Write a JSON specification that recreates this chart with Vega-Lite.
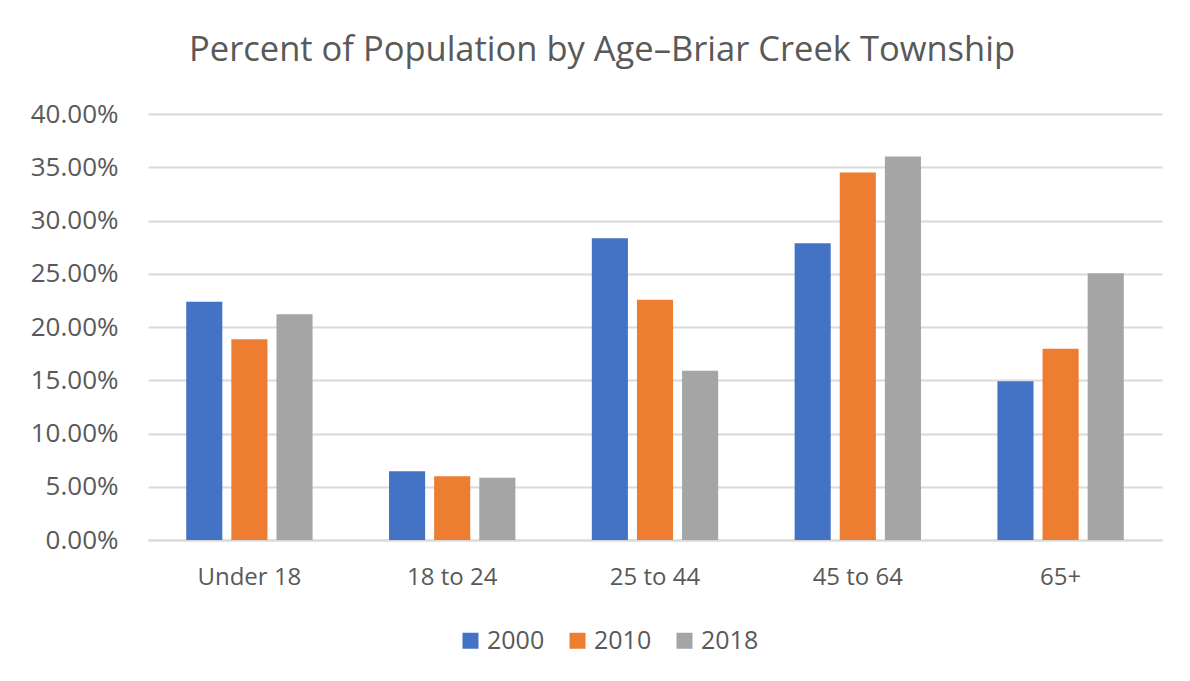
{
  "$schema": "https://vega.github.io/schema/vega-lite/v6.json",
  "width": 1014,
  "height": 426,
  "autosize": {"type": "none"},
  "padding": {"left": 148, "top": 114, "right": 28, "bottom": 141},
  "background": "white",
  "title": {
    "text": "Percent of Population by Age\u2013Briar Creek Township",
    "font": "Open Sans",
    "fontSize": 34.5,
    "fontWeight": "normal",
    "color": "#595959",
    "anchor": "middle",
    "dx": -53,
    "offset": 33
  },
  "data": {
    "values": [
      {"age": "Under 18", "year": "2000", "pct": 0.2238},
      {"age": "Under 18", "year": "2010", "pct": 0.1886},
      {"age": "Under 18", "year": "2018", "pct": 0.2120},
      {"age": "18 to 24", "year": "2000", "pct": 0.0645},
      {"age": "18 to 24", "year": "2010", "pct": 0.0598},
      {"age": "18 to 24", "year": "2018", "pct": 0.0585},
      {"age": "25 to 44", "year": "2000", "pct": 0.2833},
      {"age": "25 to 44", "year": "2010", "pct": 0.2256},
      {"age": "25 to 44", "year": "2018", "pct": 0.1590},
      {"age": "45 to 64", "year": "2000", "pct": 0.2786},
      {"age": "45 to 64", "year": "2010", "pct": 0.3450},
      {"age": "45 to 64", "year": "2018", "pct": 0.3600},
      {"age": "65+", "year": "2000", "pct": 0.1490},
      {"age": "65+", "year": "2010", "pct": 0.1796},
      {"age": "65+", "year": "2018", "pct": 0.2504}
    ]
  },
  "mark": {"type": "bar"},
  "encoding": {
    "x": {
      "field": "age",
      "type": "nominal",
      "sort": ["Under 18", "18 to 24", "25 to 44", "45 to 64", "65+"],
      "scale": {"paddingInner": 0.377, "paddingOuter": 0.1885},
      "axis": {
        "title": null,
        "labelAngle": 0,
        "labelFont": "Open Sans",
        "labelFontSize": 24,
        "labelColor": "#595959",
        "labelPadding": 25,
        "ticks": false,
        "domain": true,
        "domainColor": "#D9D9D9",
        "domainWidth": 2
      }
    },
    "xOffset": {
      "field": "year",
      "type": "nominal",
      "scale": {"paddingInner": 0.2, "paddingOuter": 0}
    },
    "y": {
      "field": "pct",
      "type": "quantitative",
      "scale": {"domain": [0, 0.4], "nice": false},
      "axis": {
        "title": null,
        "format": ".2%",
        "values": [0, 0.05, 0.1, 0.15, 0.2, 0.25, 0.3, 0.35, 0.4],
        "labelFont": "Open Sans",
        "labelFontSize": 26,
        "labelColor": "#595959",
        "labelPadding": 30,
        "ticks": false,
        "domain": false,
        "grid": true,
        "gridColor": "#D9D9D9",
        "gridWidth": 2
      }
    },
    "color": {
      "field": "year",
      "type": "nominal",
      "scale": {"domain": ["2000", "2010", "2018"], "range": ["#4472C4", "#ED7D31", "#A5A5A5"]},
      "legend": {
        "title": null,
        "orient": "none",
        "direction": "horizontal",
        "legendX": 310,
        "legendY": 514,
        "symbolType": "square",
        "symbolSize": 256,
        "symbolStrokeWidth": 0,
        "labelFont": "Open Sans",
        "labelFontSize": 25,
        "labelColor": "#595959",
        "labelOffset": 4,
        "columnPadding": 20
      }
    }
  },
  "config": {"view": {"stroke": null}}
}
